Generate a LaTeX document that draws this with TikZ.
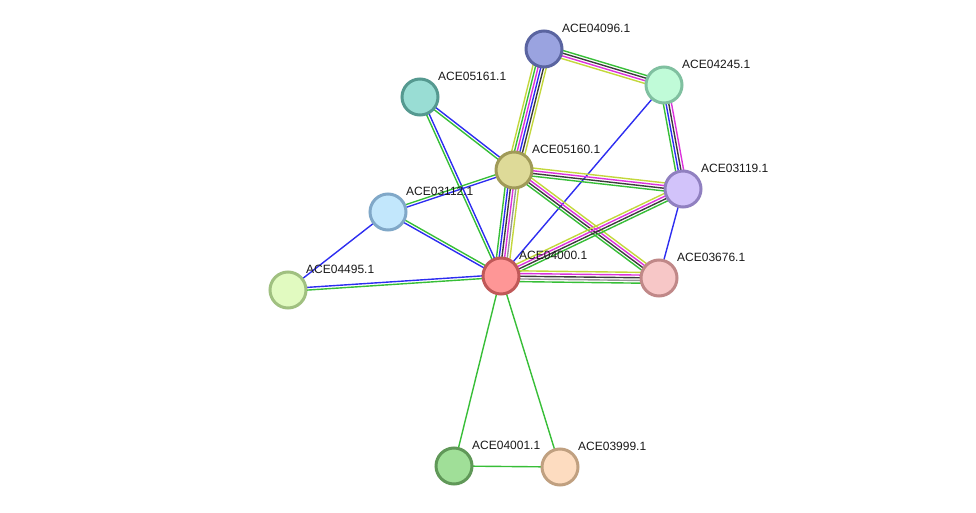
\documentclass[tikz,border=0pt]{standalone}
\usepackage{fontspec}
\setmainfont{Liberation Sans}
\usetikzlibrary{calc,backgrounds}
\definecolor{sgreen}{RGB}{55,190,55}
\definecolor{sblue}{RGB}{45,45,240}
\definecolor{smag}{RGB}{220,50,220}
\definecolor{sblack}{RGB}{60,60,60}
\definecolor{syel}{RGB}{195,215,60}
\definecolor{sgrey}{RGB}{150,150,150}
\tikzset{
  prot/.style={circle,minimum size=36pt,inner sep=0pt,line width=3pt},
  lbl/.style={anchor=west,inner sep=0pt,font=\fontsize{12}{14}\selectfont,text=black!90},
  edge/.style={line width=1.4pt}
}
\newcommand\bundle[3]{%
  \foreach \c [count=\i] in {#3} {\xdef\nbl{\i}}%
  \foreach \c [count=\i] in {#3} {%
    \pgfmathsetmacro\off{(\i-(\nbl+1)/2)*2.7}%
    \draw[edge,\c] ($(#1)!\off pt!90:(#2)$) -- ($(#2)!\off pt!-90:(#1)$);
  }}
\begin{document}
\begin{tikzpicture}[x=1pt,y=-1pt]
\useasboundingbox (0,0) rectangle (976,513);
% nodes
\node[prot,draw={rgb,255:red,90;green,100;blue,160},fill={rgb,255:red,154;green,163;blue,224}] (n4096) at (544,49) {};
\node[prot,draw={rgb,255:red,128;green,192;blue,160},fill={rgb,255:red,192;green,251;blue,216}] (n4245) at (664,85) {};
\node[prot,draw={rgb,255:red,85;green,153;blue,144},fill={rgb,255:red,153;green,221;blue,212}] (n5161) at (420,97) {};
\node[prot,draw={rgb,255:red,160;green,154;blue,88},fill={rgb,255:red,222;green,218;blue,152}] (n5160) at (514,170) {};
\node[prot,draw={rgb,255:red,144;green,128;blue,192},fill={rgb,255:red,210;green,195;blue,250}] (n3119) at (683,189) {};
\node[prot,draw={rgb,255:red,128;green,168;blue,200},fill={rgb,255:red,194;green,231;blue,252}] (n3112) at (388,212) {};
\node[prot,draw={rgb,255:red,192;green,88;blue,88},fill={rgb,255:red,254;green,150;blue,150}] (n4000) at (501,276) {};
\node[prot,draw={rgb,255:red,192;green,136;blue,136},fill={rgb,255:red,247;green,199;blue,199}] (n3676) at (659,278) {};
\node[prot,draw={rgb,255:red,160;green,192;blue,128},fill={rgb,255:red,225;green,250;blue,192}] (n4495) at (288,290) {};
\node[prot,draw={rgb,255:red,96;green,152;blue,88},fill={rgb,255:red,160;green,223;blue,152}] (n4001) at (454,466) {};
\node[prot,draw={rgb,255:red,192;green,160;blue,128},fill={rgb,255:red,253;green,220;blue,192}] (n3999) at (560,467) {};
% edges
\begin{scope}[on background layer]
\bundle{n4096}{n4245}{syel,smag,sblack,sgreen}
\bundle{n4096}{n5160}{syel,sgreen,smag,sblue,sblack,syel}
\bundle{n4245}{n4000}{sblue}
\bundle{n4245}{n3119}{sgreen,sblue,sblack,smag}
\bundle{n5161}{n5160}{sgreen,sblue}
\bundle{n5161}{n4000}{sgreen,sblue}
\bundle{n5160}{n3119}{sgreen,sblack,smag,syel}
\bundle{n5160}{n3112}{sgreen,sblue}
\bundle{n5160}{n4000}{sgreen,sblue,sblack,smag,sgrey,syel}
\bundle{n5160}{n3676}{sgreen,sblack,smag,syel}
\bundle{n3119}{n4000}{syel,smag,sblack,sgreen}
\bundle{n3119}{n3676}{sblue}
\bundle{n3112}{n4000}{sblue,sgreen}
\bundle{n3112}{n4495}{sblue}
\bundle{n4495}{n4000}{sgreen,sblue}
\bundle{n4000}{n3676}{sgreen,sgrey,sblack,smag,syel}
\bundle{n4000}{n4001}{sgreen}
\bundle{n4000}{n3999}{sgreen}
\bundle{n4001}{n3999}{sgreen}
\end{scope}
% labels
\node[lbl] (l4096) at ($(n4096)+(18,-21)$) {ACE04096.1};
\node[lbl] (l4245) at ($(n4245)+(18,-21)$) {ACE04245.1};
\node[lbl] (l5161) at ($(n5161)+(18,-21)$) {ACE05161.1};
\node[lbl] (l5160) at ($(n5160)+(18,-21)$) {ACE05160.1};
\node[lbl] (l3119) at ($(n3119)+(18,-21)$) {ACE03119.1};
\node[lbl] (l3112) at ($(n3112)+(18,-21)$) {ACE03112.1};
\node[lbl] (l4000) at ($(n4000)+(18,-21)$) {ACE04000.1};
\node[lbl] (l3676) at ($(n3676)+(18,-21)$) {ACE03676.1};
\node[lbl] (l4495) at ($(n4495)+(18,-21)$) {ACE04495.1};
\node[lbl] (l4001) at ($(n4001)+(18,-21)$) {ACE04001.1};
\node[lbl] (l3999) at ($(n3999)+(18,-21)$) {ACE03999.1};
\end{tikzpicture}
\end{document}
